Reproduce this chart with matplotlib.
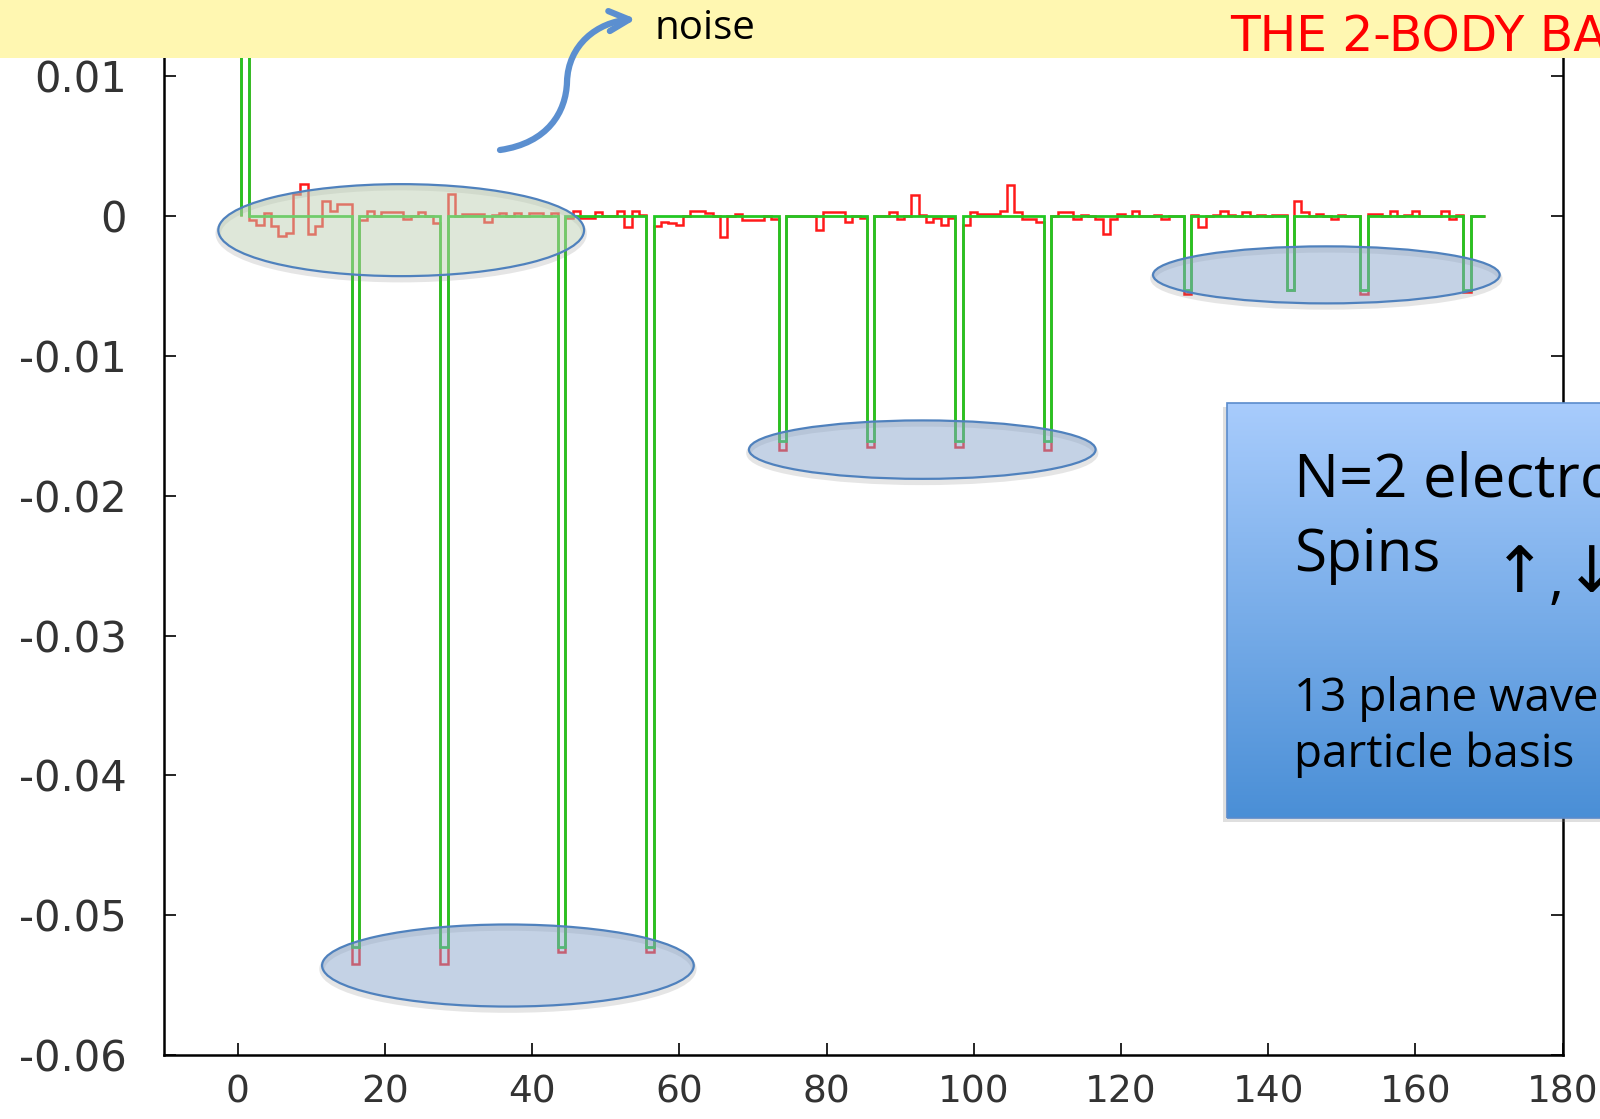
import numpy as np
import matplotlib
matplotlib.use('Agg')
import matplotlib.pyplot as plt
from matplotlib.patches import Ellipse, Rectangle, FancyArrowPatch
from matplotlib.path import Path

plt.rcParams['font.family'] = ['Open Sans', 'DejaVu Sans']
plt.rcParams['axes.unicode_minus'] = False

# two-body basis index (13 x 13 = 169 states)
bins = np.arange(1, 170)
edges = np.arange(0.5, 170.5, 1.0)

# exact result: zero except a few states
green_spike_bins = [1, 16, 28, 44, 56, 74, 86, 98, 110, 129, 143, 153, 167]
green_spike_vals = [0.03, -0.0523, -0.0523, -0.0523, -0.0523,
                    -0.0161, -0.0161, -0.0161, -0.0161,
                    -0.0053, -0.0053, -0.0053, -0.0053]

# noisy estimate, one value per basis state
red_vals = [
    0.03, -0.0003, -0.0006, 0.0002, -0.0007, -0.0014, -0.0012, 0.0016, 0.0023, -0.0013,
    -0.0007, 0.0011, 0.0004, 0.0009, 0.0009, -0.0535, -0.0003, 0.0004, 0.0, 0.0003,
    0.0003, 0.0003, -0.0002, 0.0, 0.0003, 0.0, -0.0005, -0.0535, 0.0016, 0.0,
    0.00015, 0.00015, 0.00015, -0.0004, 0.0001, 0.0002, 0.0, 0.0002, 0.0, 0.0002,
    0.0002, 0.0, 0.0002, -0.0526, -0.0001, 0.0004, -0.0001, -0.0001, 0.0003, 0.0,
    0.0, 0.0004, -0.0008, 0.0004, 0.0001, -0.0526, -0.0007, -0.0004, -0.0005, -0.0006,
    0.0, 0.0004, 0.0004, 0.0002, 0.0, -0.0015, 0.0, 0.00015, -0.00025, -0.00025,
    -0.00025, 0.0, -0.0002, -0.0167, 0.0, 0.0, 0.0, 0.0, -0.001, 0.0003,
    0.0003, 0.0003, -0.0004, 0.0, -0.0001, -0.0165, 0.0, 0.0, 0.0003, -0.0002,
    0.0, 0.0015, 0.0001, -0.0004, -0.0001, -0.0006, -0.0001, -0.0165, -0.0006, 0.0003,
    0.00015, 0.00015, 0.00015, 0.0004, 0.0022, 0.0003, -0.0002, -0.0002, -0.0004, -0.0167,
    0.0, 0.0003, 0.0003, -0.0002, 0.0001, 0.0, -0.0002, -0.0013, -0.0002, 0.00015,
    0.0, 0.0004, 0.0, 0.0, 0.0001, -0.0002, 0.0, 0.0, -0.0056, 0.0001,
    -0.0008, 0.0, 0.0001, 0.0004, 0.0001, 0.0, 0.0003, 0.0, 0.0001, 0.0,
    0.0001, 0.0001, -0.0053, 0.0011, 0.0003, 0.0, 0.00015, 0.0, -0.0002, 0.0001,
    0.0, 0.0, -0.0056, 0.00015, 0.00015, 0.0, 0.0004, 0.0, 0.0001, 0.0004,
    0.0, 0.0, 0.0, 0.0004, -0.0002, 0.0001, -0.0054, 0.0, 0.0,
]

xticks = [0, 20, 40, 60, 80, 100, 120, 140, 160, 180]
yticks = [-0.06, -0.05, -0.04, -0.03, -0.02, -0.01, 0, 0.01]
ytick_labels = ['-0.06', '-0.05', '-0.04', '-0.03', '-0.02', '-0.01', '0', '0.01']

green_vals = np.zeros(len(bins))
for b, v in zip(green_spike_bins, green_spike_vals):
    green_vals[b - 1] = v

W, H = 1600, 1119
fig = plt.figure(figsize=(16, 11.19), dpi=100)
ax = fig.add_axes([164.2 / W, 1 - 1055 / H, 1398.4 / W, 1015 / H])
ax.set_zorder(0)

ax.stairs(red_vals, edges, baseline=0, color='#ff1a1a', lw=1.8, zorder=2)
ax.stairs(green_vals, edges, baseline=0, color='#22c722', lw=2.0, zorder=3)

ax.set_xlim(-10, 180)
ax.set_ylim(-0.06, 0.0126)
ax.set_xticks(xticks)
ax.set_xticklabels([str(t) for t in xticks], fontfamily='DejaVu Sans', fontsize=27)
ax.set_yticks(yticks)
ax.set_yticklabels(ytick_labels, fontfamily='DejaVu Sans', fontsize=30)
ax.tick_params(direction='in', length=8.6, width=1.2,
               labelcolor='#333333', right=True, top=False)
ax.tick_params(axis='y', pad=27)
ax.tick_params(axis='x', pad=14)
ax.spines['top'].set_visible(False)
for s in ['left', 'right', 'bottom']:
    ax.spines[s].set_linewidth(1.8)

# highlight ellipses (centre x, centre y, width, height, fill)
ellipses = [
    (22.2, -0.0010, 49.7, 0.00658, '#bfd1b5'),
    (36.7, -0.0536, 50.5, 0.00587, '#8ba7cd'),
    (93.0, -0.0167, 47.1, 0.00418, '#8ba7cd'),
    (147.9, -0.0042, 47.1, 0.00408, '#8ba7cd'),
]
for cx, cy, w, h, fc in ellipses:
    ax.add_patch(Ellipse((cx, cy - 0.00025), w, h, fill=False, edgecolor='gray',
                         alpha=0.2, lw=4, zorder=4))
    ax.add_patch(Ellipse((cx, cy), w, h, facecolor=fc, edgecolor='none',
                         alpha=0.5, zorder=5))
    ax.add_patch(Ellipse((cx, cy), w, h, fill=False, edgecolor='#4f81bd',
                         lw=1.6, zorder=6))

# yellow title banner
fig.add_artist(Rectangle((0, 1 - 58 / H), 1, 58 / H, transform=fig.transFigure,
                         facecolor='#fff7b1', edgecolor='none', zorder=5))
fig.text(1230 / W, 1 - 38 / H, 'THE 2-BODY BASIS', color='#ff0000', fontsize=35,
         va='center', ha='left', zorder=6, family=['DejaVu Sans'])
fig.text(655 / W, 1 - 29 / H, 'noise', color='black', fontsize=29,
         va='center', ha='left', zorder=6)

# curved arrow pointing at "noise"
pts = [(500, 150), (548, 143), (566, 112), (567, 82),
       (568, 45), (597, 22), (636, 19)]
verts = [(x / W, 1 - y / H) for x, y in pts]
codes = [Path.MOVETO, Path.CURVE4, Path.CURVE4, Path.CURVE4,
         Path.CURVE4, Path.CURVE4, Path.CURVE4]
arrow = FancyArrowPatch(path=Path(verts, codes), arrowstyle='->', mutation_scale=36,
                        lw=4.5, color='#5b8fd0', transform=fig.transFigure, zorder=7)
fig.add_artist(arrow)

# blue info box
bx0, by0, by1 = 1226.5, 403, 818
fig.add_artist(Rectangle((bx0 / W - 0.002, 1 - (by1 + 4) / H), 0.3, (by1 - by0) / H,
                         transform=fig.transFigure, facecolor='gray', alpha=0.25,
                         edgecolor='none', zorder=1))
box_ax = fig.add_axes([bx0 / W, 1 - by1 / H, (W - bx0) / W + 0.01, (by1 - by0) / H])
box_ax.set_zorder(2)
top_c = np.array([0.66, 0.80, 0.99])
bot_c = np.array([0.29, 0.56, 0.84])
t = np.linspace(0, 1, 256)[:, None, None]
grad = top_c[None, None, :] * (1 - t) + bot_c[None, None, :] * t
box_ax.imshow(grad, aspect='auto', extent=[0, 1, 0, 1])
box_ax.axis('off')
fig.add_artist(Rectangle((bx0 / W, 1 - by1 / H), 0.3, (by1 - by0) / H,
                         transform=fig.transFigure, fill=False, edgecolor='#5b8ccc',
                         lw=1.2, zorder=3))

tx = 1294 / W
fig.text(tx, 1 - 497 / H, 'N=2 electrons', fontsize=43, va='baseline', zorder=4)
fig.text(tx, 1 - 571 / H, 'Spins', fontsize=42, va='baseline', zorder=4)
fig.text(1520 / W, 1 - 574 / H, '↑', fontsize=46, ha='center', va='center', zorder=4,
         family=['DejaVu Sans'])
fig.text(1556 / W, 1 - 597 / H, ',', fontsize=42, ha='center', va='baseline', zorder=4)
fig.text(1592 / W, 1 - 574 / H, '↓', fontsize=46, ha='center', va='center', zorder=4,
         family=['DejaVu Sans'])
fig.text(tx, 1 - 711 / H, '13 plane waves', fontsize=33, va='baseline', zorder=4)
fig.text(tx, 1 - 767 / H, 'particle basis', fontsize=33, va='baseline', zorder=4)

fig.savefig('out.png', dpi=100)
